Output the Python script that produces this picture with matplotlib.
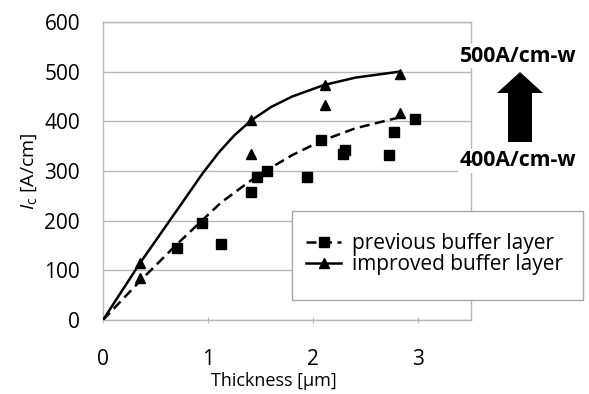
import matplotlib
matplotlib.use("Agg")
import matplotlib.pyplot as plt
from matplotlib.patches import Rectangle, FancyArrow
from matplotlib.lines import Line2D

plt.rcParams['font.family'] = ['Open Sans', 'DejaVu Sans']
plt.rcParams['mathtext.fontset'] = 'custom'
plt.rcParams['mathtext.rm'] = 'Open Sans'
plt.rcParams['mathtext.it'] = 'Open Sans:italic'

# previous buffer layer (squares)
prev_x = [0.70, 0.94, 1.12, 1.41, 1.46, 1.56, 1.94, 2.07, 2.28, 2.30, 2.72, 2.77, 2.97]
prev_y = [144, 196, 154, 258, 287, 300, 287, 362, 335, 343, 333, 378, 405]
# improved buffer layer (triangles)
impr_x = [0.35, 0.35, 1.41, 1.41, 2.11, 2.11, 2.82, 2.82]
impr_y = [114, 85, 402, 335, 473, 433, 496, 417]

# trend curves
prev_curve_x = [0, 0.35, 0.70, 0.93, 1.12, 1.40, 1.56, 1.80, 2.07, 2.40, 2.82]
prev_curve_y = [0, 78, 152, 198, 236, 280, 302, 332, 360, 386, 408]
impr_curve_x = [0, 0.35, 0.70, 0.95, 1.10, 1.25, 1.41, 1.60, 1.80, 2.10, 2.40, 2.82]
impr_curve_y = [0, 114, 220, 296, 337, 372, 402, 429, 450, 473, 488, 500]

x_ticks = [0, 1, 2, 3]
y_ticks = [0, 100, 200, 300, 400, 500, 600]

W, H = 589, 394
fig = plt.figure(figsize=(W / 100, H / 100), dpi=100)
ax = fig.add_axes([103 / W, 1 - 320 / H, (471 - 103) / W, (320 - 22) / H])

grid_c = '#b8b8b8'
ax.set_xlim(0, 3.5)
ax.set_ylim(0, 600)
ax.set_yticks(y_ticks)
ax.set_xticks(x_ticks)
ax.yaxis.grid(True, color=grid_c, lw=1.0)
ax.set_axisbelow(True)
for s in ax.spines.values():
    s.set_color(grid_c)
    s.set_linewidth(1.0)
ax.tick_params(axis='y', length=0, pad=16.5, labelsize=15, colors='black')
ax.tick_params(axis='x', length=5, direction='inout', color=grid_c, pad=18.5,
               labelsize=15, labelcolor='black')

ax.plot(impr_curve_x, impr_curve_y, color='black', lw=1.8, clip_on=True, zorder=3)
ax.plot(prev_curve_x, prev_curve_y, color='black', lw=1.8, ls=(0, (4, 2.2)), zorder=3)
ax.plot(prev_x, prev_y, ls='none', marker='s', ms=6.5, color='black', zorder=4)
ax.plot(impr_x, impr_y, ls='none', marker='^', ms=7, color='black', zorder=4)

fig.text(274 / W, 1 - 381 / H, 'Thickness [µm]', ha='center', va='center', fontsize=13)
ax.set_ylabel(r'$\mathit{I}_\mathrm{c}$ [A/cm]', fontsize=14, labelpad=4)

# legend frame
fig.add_artist(Rectangle((292 / W, 1 - 300 / H), (583 - 292) / W, (300 - 211) / H,
                         transform=fig.transFigure, facecolor='white',
                         edgecolor='#a8a8a8', lw=1.0, zorder=2))
handles = [Line2D([], [], color='black', lw=1.8, ls=(0, (4, 2.2)), marker='s', ms=6.5),
           Line2D([], [], color='black', lw=1.8, marker='^', ms=7)]
leg = fig.legend(handles, ['previous buffer layer', 'improved buffer layer'],
                 loc='center left', bbox_to_anchor=(306 / W, 1 - 254 / H),
                 frameon=False, fontsize=15, handlelength=1.7, handletextpad=0.5,
                 labelspacing=0.0, borderaxespad=0, borderpad=0)
leg.set_zorder(3)

# annotation
bbox = dict(facecolor='white', edgecolor='none', pad=1)
fig.text(518 / W, 1 - 56 / H, '500A/cm-w', ha='center', va='center',
         fontsize=15.3, fontweight='bold', bbox=bbox, zorder=3)
fig.text(518 / W, 1 - 161 / H, '400A/cm-w', ha='center', va='center',
         fontsize=15.3, fontweight='bold', bbox=bbox, zorder=3)
fig.add_artist(FancyArrow(520 / W, 1 - 142 / H, 0, 70 / H, width=24 / W,
                          head_width=46 / W, head_length=21 / H,
                          length_includes_head=True, transform=fig.transFigure,
                          facecolor='black', edgecolor='none', zorder=3))

fig.savefig('out.png', dpi=100)
